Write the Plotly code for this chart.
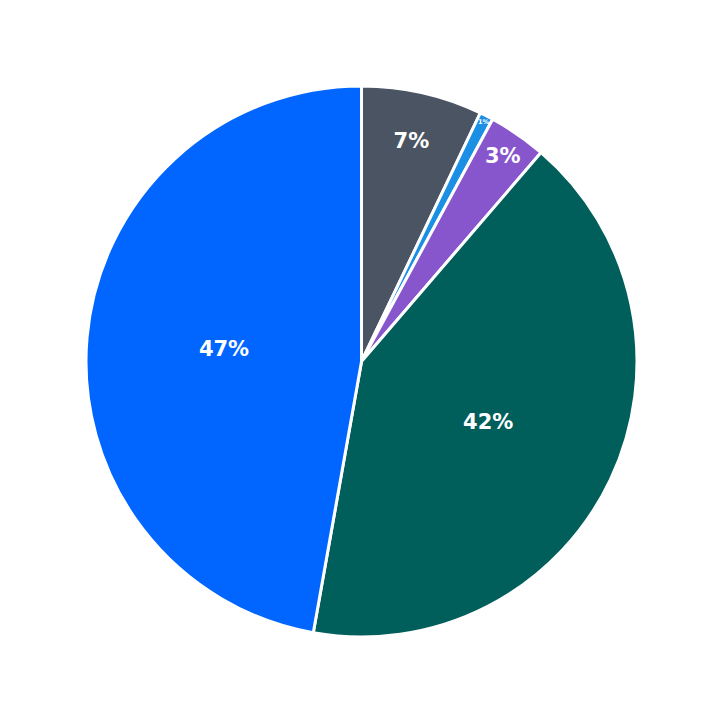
import plotly.graph_objects as go

labels = ['A', 'B', 'C', 'D', 'E']
values = [7.1, 0.8, 3.4, 41.5, 47.2]
colors = ['#4a5462', '#1a8fe3', '#8755cc', '#005e5b', '#0066ff']

fig = go.Figure(go.Pie(
    labels=labels, values=values, sort=False, direction='clockwise', rotation=0,
    marker=dict(colors=colors, line=dict(color='white', width=3)),
    texttemplate='%{percent:.0%}', textposition='inside',
    insidetextorientation='horizontal',
    textfont=dict(family='DejaVu Sans', size=21, color='white', weight='bold'),
    hoverinfo='label+percent'))
fig.update_layout(width=723, height=723, showlegend=False,
                  margin=dict(l=78, r=94, t=78, b=94),
                  paper_bgcolor='white')
fig.write_html('out.html')
